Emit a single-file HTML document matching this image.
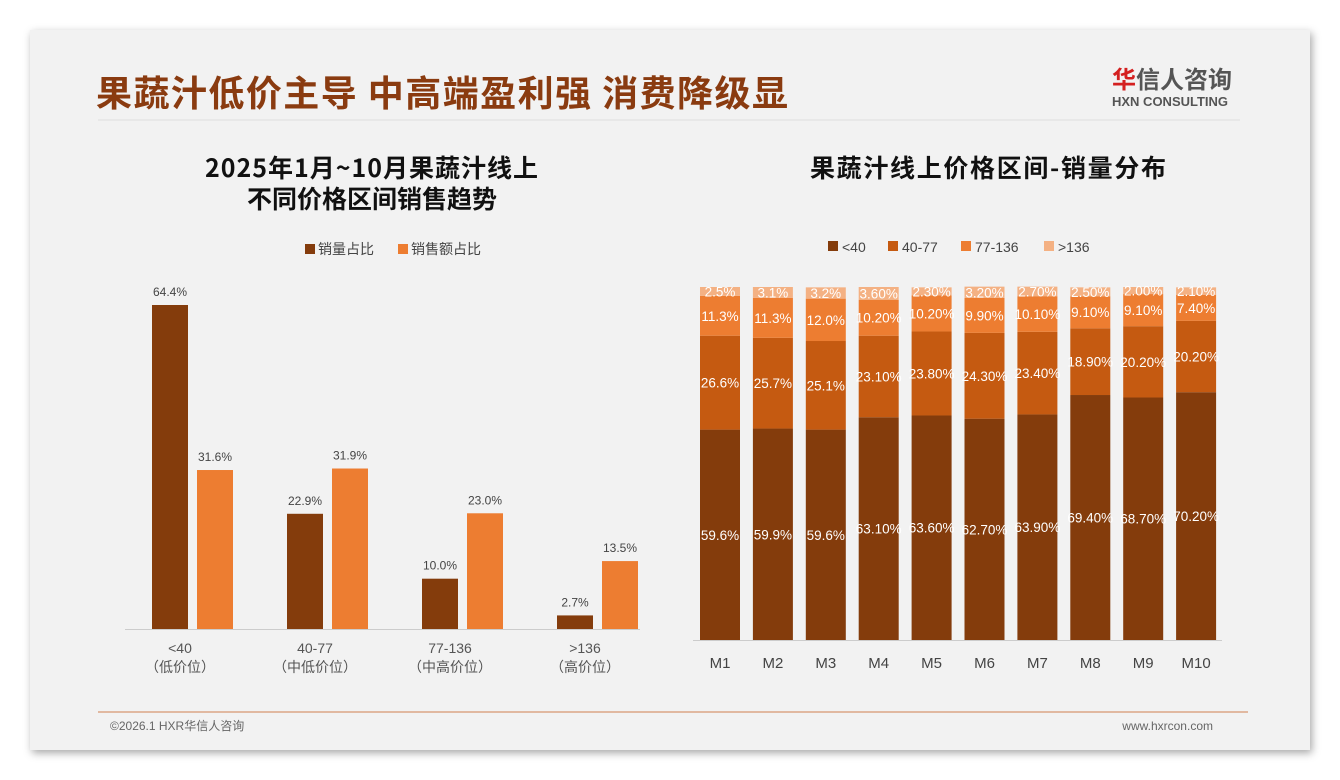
<!DOCTYPE html>
<html><head><meta charset="utf-8"><style>
body{margin:0;width:1340px;height:780px;background:#fff;font-family:"Liberation Sans","Noto Sans CJK SC",sans-serif;overflow:hidden}
#card{position:absolute;left:30px;top:30px;width:1280px;height:720px;background:#f2f2f2;box-shadow:2px 3px 8px rgba(0,0,0,.35)}
</style></head><body>
<div id="card"></div>
<svg width="1340" height="780" style="position:absolute;left:0;top:0">
<text x="96" y="106" font-size="36" font-weight="bold" fill="#8a3b10" textLength="692" font-family="Noto Sans CJK SC,sans-serif">果蔬汁低价主导 中高端盈利强 消费降级显</text>
<text x="1112" y="88" font-size="24" font-weight="bold" fill="#555" font-family="Noto Sans CJK SC,sans-serif"><tspan fill="#d42020">华</tspan>信人咨询</text>
<text x="1112" y="106" font-size="13" font-weight="bold" fill="#555">HXN CONSULTING</text>
<line x1="98" y1="120" x2="1240" y2="120" stroke="#ddd"/>
<line x1="98" y1="712" x2="1248" y2="712" stroke="#d08050"/>
<text x="110" y="730" font-size="12" fill="#666">©2026.1 HXR华信人咨询</text>
<text x="1213" y="730" font-size="12" fill="#666" text-anchor="end">www.hxrcon.com</text>
<text x="205" y="177" font-size="25" font-weight="bold" fill="#111" textLength="333" font-family="Noto Sans CJK SC,sans-serif">2025年1月~10月果蔬汁线上</text>
<text x="372" y="208" font-size="25" font-weight="bold" fill="#111" text-anchor="middle" font-family="Noto Sans CJK SC,sans-serif">不同价格区间销售趋势</text>
<text x="810" y="177" font-size="25" font-weight="bold" fill="#111" textLength="356" font-family="Noto Sans CJK SC,sans-serif">果蔬汁线上价格区间-销量分布</text>
<g id="left"></g><g id="right"></g>
</svg>
<script>
const leftCats=["<40","40-77","77-136",">136"];
const leftSub=["（低价位）","（中低价位）","（中高价位）","（高价位）"];
const volShare=[64.4,22.9,10.0,2.7];
const salesShare=[31.6,31.9,23.0,13.5];
const months=["M1","M2","M3","M4","M5","M6","M7","M8","M9","M10"];
const seriesNames=["<40","40-77","77-136",">136"];
const s1=[59.6,59.9,59.6,63.1,63.6,62.7,63.9,69.4,68.7,70.2];
const s2=[26.6,25.7,25.1,23.1,23.8,24.3,23.4,18.9,20.2,20.2];
const s3=[11.3,11.3,12.0,10.2,10.2,9.9,10.1,9.1,9.1,7.4];
const s4=[2.5,3.1,3.2,3.6,2.3,3.2,2.7,2.5,2.0,2.1];
const NS="http://www.w3.org/2000/svg";
function mk(p,t,a,txt){const e=document.createElementNS(NS,t);for(const k in a)e.setAttribute(k,a[k]);if(txt!=null)e.textContent=txt;p.appendChild(e);return e;}
const L=document.getElementById('left');
const yL=v=>629-v*324/64.4;
const xL=i=>180+i*135;
mk(L,'line',{x1:125,y1:629.5,x2:640,y2:629.5,stroke:'#ccc'});
[[305,'#843c0c','销量占比'],[398,'#ed7d31','销售额占比']].forEach((l,i)=>{
 const r=mk(L,'rect',{x:l[0],y:244,width:10,height:10,fill:l[1]});
 
 
 const t=mk(L,'text',{x:l[0]+13,y:254,'font-size':14,fill:'#444'},l[2]);
 
 
});
leftCats.forEach((c,i)=>{
 const x=xL(i);
 [[volShare[i],x-28,'#843c0c'],[salesShare[i],x+17,'#ed7d31']].forEach((b,j)=>{
  const r=mk(L,'rect',{x:b[1],y:yL(b[0]),width:36,height:629-yL(b[0]),fill:b[2]});
  
  
  const t=mk(L,'text',{x:b[1]+18,y:yL(b[0])-9,'font-size':12,fill:'#444','text-anchor':'middle'},b[0].toFixed(1)+'%');
  
  
 });
 const t=mk(L,'text',{x:x,y:653,'font-size':14,fill:'#555','text-anchor':'middle'},c);
 
 
 const t2=mk(L,'text',{x:x,y:672,'font-size':14,fill:'#555','text-anchor':'middle'},leftSub[i]);
 
 
});
const R=document.getElementById('right');
const yR=v=>640-v*3.53;
const xR=i=>720+i*52.9;
const cols=['#843c0c','#c55a11','#ed7d31','#f4b183'];
const lx=[828,888,961,1044];
seriesNames.forEach((n,k)=>{
 const r=mk(R,'rect',{x:lx[k],y:241,width:10,height:10,fill:cols[k]});
 
 
 const t=mk(R,'text',{x:lx[k]+14,y:252,'font-size':14,fill:'#444'},n);
 
 
});
mk(R,'line',{x1:693,y1:640.5,x2:1222,y2:640.5,stroke:'#ccc'});
const series=[s1,s2,s3,s4];
months.forEach((m,i)=>{
 let acc=0;const x=xR(i);
 series.forEach((s,k)=>{
  const v=s[i];
  const r=mk(R,'rect',{x:x-20,y:yR(acc+v),width:40,height:v*3.53,fill:cols[k]});
  
  
  const lab=(i<3?v.toFixed(1):v.toFixed(2))+'%';
  const t=mk(R,'text',{x:x,y:yR(acc+v/2)+5,'font-size':13.5,fill:'#fff','text-anchor':'middle'},lab);
  
  
  acc+=v;
 });
 const t=mk(R,'text',{x:x,y:668,'font-size':15,fill:'#444','text-anchor':'middle'},m);
 
 
});
</script>
</body></html>
